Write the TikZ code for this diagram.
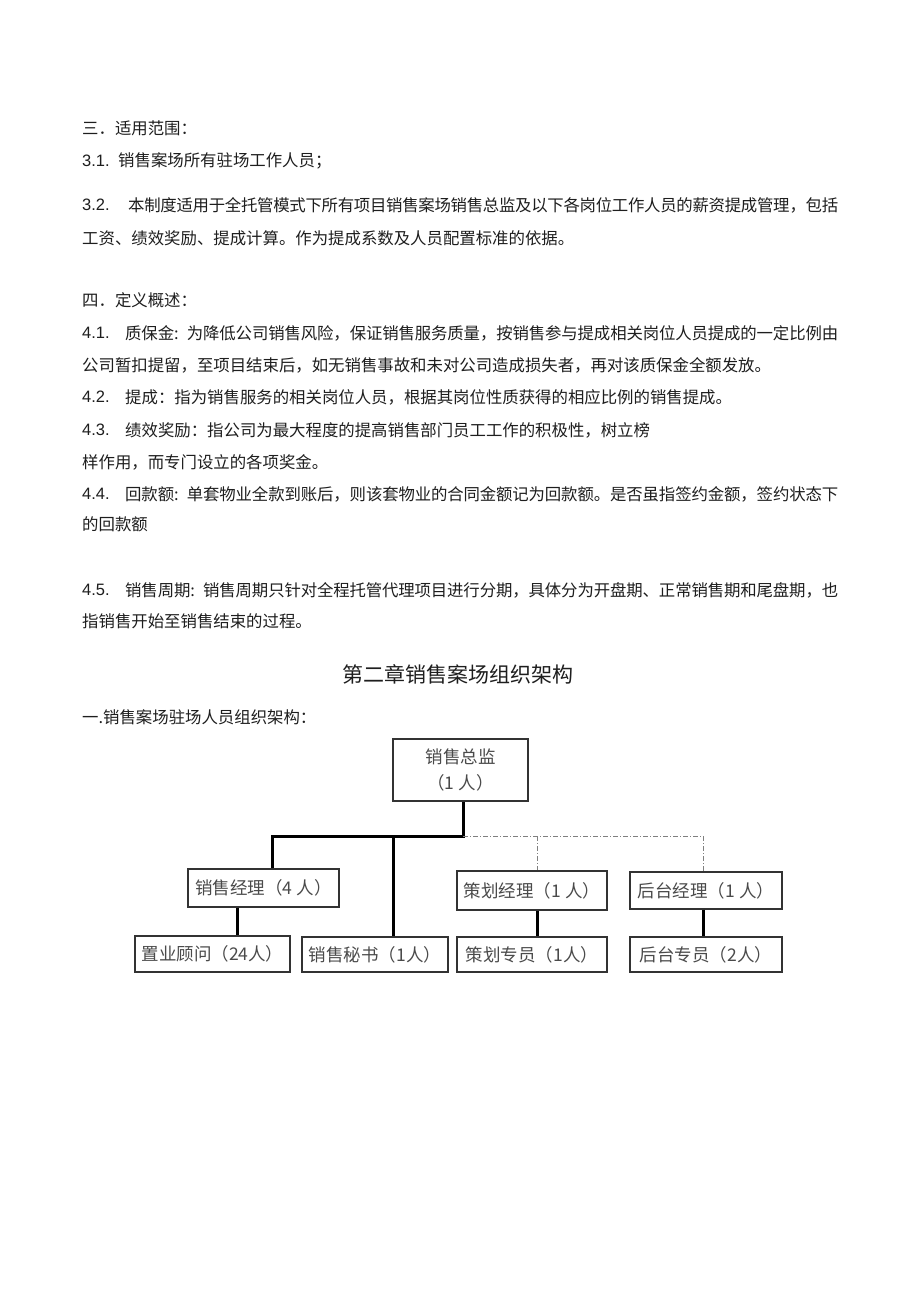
\documentclass[tikz,border=0pt]{standalone}
\usepackage{fontspec}
\setmainfont{Noto Sans CJK SC}
\newfontfamily\numfont{Liberation Sans}
\usetikzlibrary{positioning}
\XeTeXlinebreaklocale "zh"
\XeTeXlinebreakskip=0pt plus 1pt minus 0.6pt
\definecolor{inkgray}{HTML}{1E1E1E}
\definecolor{boxgray}{HTML}{333333}
\definecolor{labelgray}{HTML}{4A4A4A}
\definecolor{dashgray}{HTML}{808080}
\tikzset{
  line/.style={anchor=west, inner sep=0pt, text=inkgray, font=\fontsize{16.4}{19}\selectfont},
  itemno/.style={line, font=\numfont\fontsize{16.5}{19}\selectfont},
  fullline/.style={line, text width=#1, execute at begin node={\parindent=0pt\parfillskip=0pt\relax}},
  post/.style={draw=boxgray, line width=1.3pt, inner sep=0pt, text=labelgray, font=\fontsize{17.5}{26}\selectfont, align=center},
  link/.style={line width=3pt, black},
  dotlink/.style={line width=1pt, dashgray, dash pattern=on 5pt off 2pt on 1pt off 2pt},
}
\begin{document}
\begin{tikzpicture}[x=1pt,y=-1pt]
	\useasboundingbox (0,0) rectangle (920,1303);
	\fill[white] (0,0) rectangle (920,1303);

	\node[line] (s3) at (82,128) {三．适用范围：};
	\node[itemno] (n31) at (82,161) {3.1.};
	\node[line] (t31) at (118,161) {销售案场所有驻场工作人员；};
	\node[itemno] (n32) at (82,205) {3.2.};
	\node[fullline=710pt] (t32) at (128,205) {本制度适用于全托管模式下所有项目销售案场销售总监及以下各岗位工作人员的薪资提成管理，包括};
	\node[line] (t32b) at (82,238) {工资、绩效奖励、提成计算。作为提成系数及人员配置标准的依据。};

	\node[line] (s4) at (82,300) {四．定义概述：};
	\node[itemno] (n41) at (82,333) {4.1.};
	\node[fullline=713pt] (t41) at (125,333) {质保金: 为降低公司销售风险，保证销售服务质量，按销售参与提成相关岗位人员提成的一定比例由};
	\node[line] (t41b) at (82,365) {公司暂扣提留，至项目结束后，如无销售事故和未对公司造成损失者，再对该质保金全额发放。};
	\node[itemno] (n42) at (82,397) {4.2.};
	\node[line] (t42) at (125,397) {提成：指为销售服务的相关岗位人员，根据其岗位性质获得的相应比例的销售提成。};
	\node[itemno] (n43) at (82,430) {4.3.};
	\node[line] (t43) at (125,430) {绩效奖励：指公司为最大程度的提高销售部门员工工作的积极性，树立榜};
	\node[line] (t43b) at (82,462) {样作用，而专门设立的各项奖金。};
	\node[itemno] (n44) at (82,494) {4.4.};
	\node[fullline=713pt] (t44) at (125,494) {回款额: 单套物业全款到账后，则该套物业的合同金额记为回款额。是否虽指签约金额，签约状态下};
	\node[line] (t44b) at (82,524) {的回款额};
	\node[itemno] (n45) at (82,590) {4.5.};
	\node[fullline=713pt] (t45) at (125,590) {销售周期: 销售周期只针对全程托管代理项目进行分期，具体分为开盘期、正常销售期和尾盘期，也};
	\node[line] (t45b) at (82,621) {指销售开始至销售结束的过程。};

	\node[line, anchor=center, font=\fontsize{21}{24}\selectfont] (ch2) at (458,674) {第二章销售案场组织架构};
	\node[line] (s1) at (82,717) {一.销售案场驻场人员组织架构：};

	\node[post, minimum width=135, minimum height=62] (zj) at (460.5,770) {销售总监\\（1 人）};
	\node[post, minimum width=151, minimum height=38] (xsjl) at (263.5,888) {销售经理（4 人）};
	\node[post, minimum width=150, minimum height=39] (chjl) at (532,890.5) {策划经理（1 人）};
	\node[post, minimum width=152, minimum height=37] (htjl) at (706,890.5) {后台经理（1 人）};
	\node[post, minimum width=155, minimum height=36] (zygw) at (212.5,954) {置业顾问（24人）};
	\node[post, minimum width=146, minimum height=35] (xsms) at (375,954.5) {销售秘书（1人）};
	\node[post, minimum width=150, minimum height=35] (chzy) at (532,954.5) {策划专员（1人）};
	\node[post, minimum width=152, minimum height=35] (htzy) at (706,954.5) {后台专员（2人）};

	\coordinate (hub) at (463,836);
	\coordinate (drop1) at (272,836);
	\coordinate (drop2) at (393,836);
	\coordinate (drop3) at (537,836);
	\coordinate (drop4) at (703,836);
	\coordinate (sub1) at (237,0);
	\coordinate (sub2) at (537,0);
	\coordinate (sub3) at (703,0);

	\draw[link] (zj.south -| hub) -- (hub) -- (drop1) -- (drop1 |- xsjl.north);
	\draw[link] (drop2) -- (drop2 |- xsms.north);
	\draw[dotlink] (hub) -- (drop4) -- (drop4 |- htjl.north);
	\draw[dotlink] (drop3) -- (drop3 |- chjl.north);
	\draw[link] (xsjl.south -| sub1) -- (zygw.north -| sub1);
	\draw[link] (chjl.south -| sub2) -- (chzy.north -| sub2);
	\draw[link] (htjl.south -| sub3) -- (htzy.north -| sub3);
\end{tikzpicture}
\end{document}
